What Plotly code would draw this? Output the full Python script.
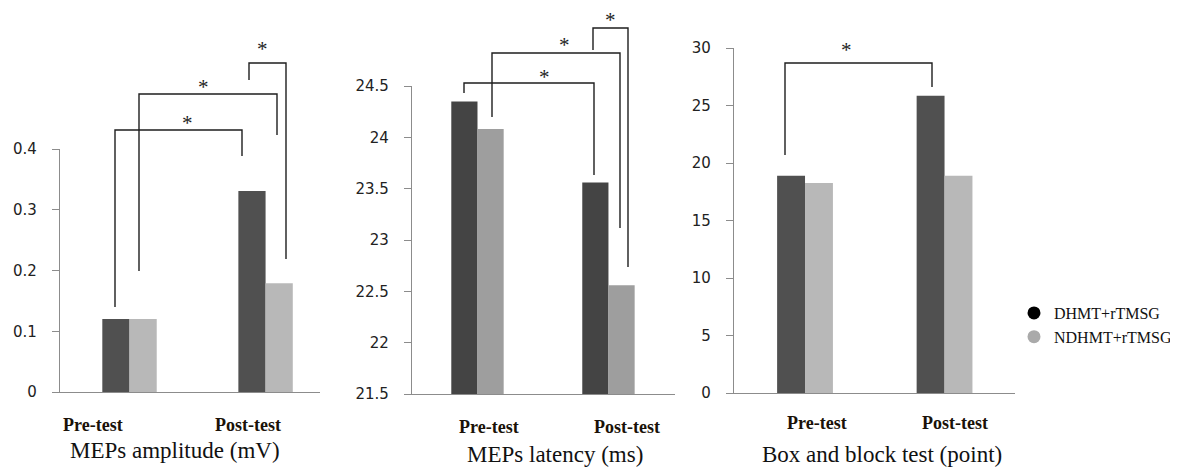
import plotly.graph_objects as go

W, H = 1178, 468
OFF = 8  # page body margin of the browser

# ---------------- data ----------------
categories = ["Pre-test", "Post-test"]
groups = ["DHMT+rTMSG", "NDHMT+rTMSG"]

amp_dhmt = [0.12, 0.331]
amp_ndhmt = [0.12, 0.179]

lat_dhmt = [24.35, 23.56]
lat_ndhmt = [24.08, 22.56]

bbt_dhmt = [18.9, 25.85]
bbt_ndhmt = [18.25, 18.9]

panel_titles = ["MEPs amplitude (mV)", "MEPs latency (ms)", "Box and block test (point)"]

amp_ticks = [0, 0.1, 0.2, 0.3, 0.4]
amp_ticktext = ["0", "0.1", "0.2", "0.3", "0.4"]
lat_ticks = [21.5, 22, 22.5, 23, 23.5, 24, 24.5]
lat_ticktext = ["21.5", "22", "22.5", "23", "23.5", "24", "24.5"]
bbt_ticks = [0, 5, 10, 15, 20, 25, 30]
bbt_ticktext = ["0", "5", "10", "15", "20", "25", "30"]

# ---------------- helpers (screen pixel -> paper) ----------------
def px(x):
    return (x - OFF) / W

def py(y):
    return 1 - (y - OFF) / H

DARK = "#505050"
LIGHT = "#b8b8b8"
DARK2 = "#444444"
LIGHT2 = "#9e9e9e"
AXC = "#8c8c8c"
TXT = "#222222"

fig = go.Figure()

panels = [
    ("x", "y", amp_dhmt, amp_ndhmt, DARK, LIGHT),
    ("x2", "y2", lat_dhmt, lat_ndhmt, DARK2, LIGHT2),
    ("x3", "y3", bbt_dhmt, bbt_ndhmt, DARK, LIGHT),
]
for xa, ya, d1, d2, c1, c2 in panels:
    fig.add_trace(go.Bar(x=categories, y=d1, name=groups[0], marker=dict(color=c1, line=dict(width=0)),
                         xaxis=xa, yaxis=ya, showlegend=False))
    fig.add_trace(go.Bar(x=categories, y=d2, name=groups[1], marker=dict(color=c2, line=dict(width=0)),
                         xaxis=xa, yaxis=ya, showlegend=False))

# legend entries (ellipse markers)
fig.add_trace(go.Scatter(x=[None], y=[None], mode="markers", name=groups[0],
                         marker=dict(symbol="circle", size=13, color="#000000"),
                         xaxis="x3", yaxis="y3"))
fig.add_trace(go.Scatter(x=[None], y=[None], mode="markers", name=groups[1],
                         marker=dict(symbol="circle", size=13, color="#aaaaaa"),
                         xaxis="x3", yaxis="y3"))

yaxis_common = dict(showline=True, linecolor=AXC, linewidth=1.3, ticks="outside", ticklen=7,
                    tickcolor=AXC, tickwidth=1.3, showgrid=False, zeroline=False,
                    tickfont=dict(family="DejaVu Sans", size=15, color=TXT),
                    ticklabelstandoff=12, fixedrange=True, automargin=False)
xaxis_common = dict(showline=True, linecolor=AXC, linewidth=1.3, ticks="", showticklabels=False,
                    showgrid=False, zeroline=False, type="category", fixedrange=True,
                    automargin=False)

fig.update_layout(
    width=W, height=H,
    margin=dict(l=0, r=0, t=0, b=0, autoexpand=False),
    paper_bgcolor="white", plot_bgcolor="white",
    barmode="group", bargap=0.6, bargroupgap=0,
    xaxis=dict(domain=[px(60), px(320)], range=[-0.511, 1.40], anchor="y", **xaxis_common),
    yaxis=dict(domain=[py(392), py(149)], range=[0, 0.4], anchor="x",
               tickvals=amp_ticks, ticktext=amp_ticktext, **yaxis_common),
    xaxis2=dict(domain=[px(412), px(675)], range=[-0.5, 1.508], anchor="y2", **xaxis_common),
    yaxis2=dict(domain=[py(394), py(86)], range=[21.5, 24.5], anchor="x2",
                tickvals=lat_ticks, ticktext=lat_ticktext, **yaxis_common),
    xaxis3=dict(domain=[px(734), px(1015)], range=[-0.509, 1.505], anchor="y3", **xaxis_common),
    yaxis3=dict(domain=[py(393), py(48)], range=[0, 30], anchor="x3",
                tickvals=bbt_ticks, ticktext=bbt_ticktext, **yaxis_common),
    legend=dict(x=px(1014), y=py(296), xanchor="left", yanchor="top",
                font=dict(family="Liberation Serif", size=16, color="#111111"),
                bgcolor="rgba(0,0,0,0)", borderwidth=0, itemwidth=30,
                tracegroupgap=0),
    showlegend=True,
)

# ---------------- significance brackets ----------------
brackets = [
    # (x_left, y_left_bottom, y_top, x_right, y_right_bottom, star_x, star_y)
    (115, 307, 130, 242, 156, 187, 118),
    (139, 271, 94, 277, 135, 203, 82),
    (249, 80, 63, 286, 259, 262, 44),
    (464, 93, 83, 594, 175, 544, 72),
    (492, 117, 53, 620, 228, 564, 40),
    (593, 50, 28, 628, 267, 610, 15),
    (785, 155, 63, 932, 87, 846, 45),
]
shapes = []
annotations = []
for xl, yl, yt, xr, yr, sx, sy in brackets:
    path = (f"M {px(xl)},{py(yl)} L {px(xl)},{py(yt)} "
            f"L {px(xr)},{py(yt)} L {px(xr)},{py(yr)}")
    shapes.append(dict(type="path", path=path, xref="paper", yref="paper",
                       line=dict(color="#1e1e1e", width=1.4)))
    annotations.append(dict(text="*", x=px(sx), y=py(sy + 5), xref="paper", yref="paper",
                            xanchor="center", yanchor="middle", showarrow=False, height=14,
                            font=dict(family="Liberation Serif", size=21, color="#1e1e1e")))

# category labels
cat_pos = [(93, 248, 425), (489, 627, 427), (817, 955, 423)]
for xpre, xpost, yc in cat_pos:
    for label, xc in zip(categories, (xpre, xpost)):
        annotations.append(dict(text=f"<b>{label}</b>", x=px(xc), y=py(yc), xref="paper", yref="paper",
                                xanchor="center", yanchor="middle", showarrow=False,
                                font=dict(family="Liberation Serif", size=18, color="#1a1208")))

# panel titles
title_pos = [(175, 450), (555, 454), (882, 454)]
for t, (xc, yc) in zip(panel_titles, title_pos):
    annotations.append(dict(text=t, x=px(xc), y=py(yc), xref="paper", yref="paper",
                            xanchor="center", yanchor="middle", showarrow=False,
                            font=dict(family="Liberation Serif", size=23, color="#111111")))

fig.update_layout(shapes=shapes, annotations=annotations)

fig.write_html("out.html")
